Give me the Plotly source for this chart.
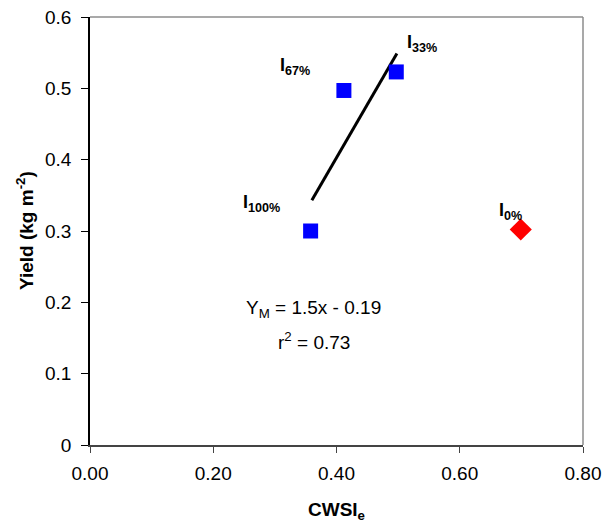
import plotly.graph_objects as go

# Data
treat_labels = ["I<sub>100%</sub>", "I<sub>67%</sub>", "I<sub>33%</sub>"]
cwsi = [0.358, 0.412, 0.497]
yield_vals = [0.300, 0.497, 0.523]
dry_label = "I<sub>0%</sub>"
dry_cwsi = [0.699]
dry_yield = [0.302]
fit_x = [0.360, 0.498]
fit_y = [0.343, 0.549]
x_ticks = [0, 0.2, 0.4, 0.6, 0.8]
x_ticktext = ["0.00", "0.20", "0.40", "0.60", "0.80"]
y_ticks = [0, 0.1, 0.2, 0.3, 0.4, 0.5, 0.6]
y_ticktext = ["0", "0.1", "0.2", "0.3", "0.4", "0.5", "0.6"]

FONT = "Liberation Sans, Arial, sans-serif"

fig = go.Figure()
fig.add_trace(go.Scatter(x=fit_x, y=fit_y, mode="lines",
                         line=dict(color="black", width=3), showlegend=False))
fig.add_trace(go.Scatter(x=cwsi, y=yield_vals, mode="markers",
                         marker=dict(symbol="square", size=15, color="#0000FF"),
                         showlegend=False))
fig.add_trace(go.Scatter(x=dry_cwsi, y=dry_yield, mode="markers",
                         marker=dict(symbol="diamond", size=17, color="#FF0000"),
                         showlegend=False))

# point labels
lab_pos = [(0.279, 0.339), (0.333, 0.531), (0.539, 0.563)]
for t, (lx, ly) in zip(treat_labels, lab_pos):
    fig.add_annotation(x=lx, y=ly, text="<b>" + t + "</b>", showarrow=False,
                       font=dict(family=FONT, size=18, color="black"))
fig.add_annotation(x=0.682, y=0.327, text="<b>" + dry_label + "</b>", showarrow=False,
                   font=dict(family=FONT, size=18, color="black"))

fig.add_annotation(x=0.363, y=0.190, text="Y<sub>M</sub> = 1.5x - 0.19", showarrow=False,
                   font=dict(family=FONT, size=19, color="black"))
fig.add_annotation(x=0.363, y=0.146, text="r<sup>2</sup> = 0.73", showarrow=False,
                   font=dict(family=FONT, size=19, color="black"))

# axis titles
fig.add_annotation(xref="paper", yref="paper", x=0.5, y=0, yshift=-66,
                   xanchor="center", yanchor="middle",
                   text="<b>CWSI<sub>e</sub></b>", showarrow=False,
                   font=dict(family=FONT, size=19, color="black"))
fig.add_annotation(xref="paper", yref="paper", x=0, xshift=-65, y=0.5,
                   xanchor="center", yanchor="middle",
                   text="<b>Yield (kg m<sup>-2</sup>)</b>", showarrow=False, textangle=-90,
                   font=dict(family=FONT, size=19, color="black"))

# gray top/right frame
fig.add_shape(type="line", xref="paper", yref="paper", x0=0, x1=1, y0=1, y1=1,
              line=dict(color="#8c8c8c", width=1.5))
fig.add_shape(type="line", xref="paper", yref="paper", x0=1, x1=1, y0=0, y1=1,
              line=dict(color="#8c8c8c", width=1.5))

fig.update_xaxes(range=[0, 0.8], tickvals=x_ticks, ticktext=x_ticktext,
                 showgrid=False, zeroline=False, showline=True, linecolor="#444444",
                 linewidth=1.5, ticks="outside", ticklen=6, tickcolor="#444444",
                 ticklabelstandoff=4, automargin=False, ticklabeloverflow="allow",
                 tickfont=dict(family=FONT, size=19, color="black"))
fig.update_yaxes(range=[0, 0.6], tickvals=y_ticks, ticktext=y_ticktext,
                 showgrid=False, zeroline=False, showline=True, linecolor="black",
                 linewidth=1.5, ticks="outside", ticklen=7, tickcolor="black",
                 ticklabelstandoff=6, automargin=False, ticklabeloverflow="allow",
                 tickfont=dict(family=FONT, size=19, color="black"))

fig.update_layout(width=605, height=525, plot_bgcolor="white", paper_bgcolor="white",
                  margin=dict(l=90, r=22, t=17, b=80), hovermode=False)
fig.write_html("out.html", config={"displayModeBar": False},
               post_script="document.body.style.margin='0';document.body.style.overflow='hidden';")
